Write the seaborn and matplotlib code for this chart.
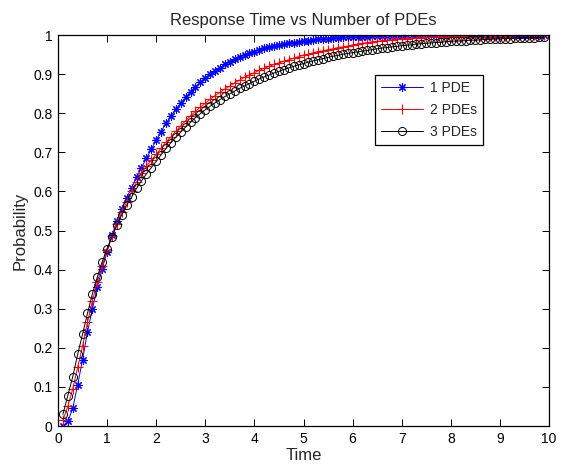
import numpy as np
import pandas as pd
import matplotlib
matplotlib.use("Agg")
import matplotlib.pyplot as plt
import seaborn as sns

time = np.round(np.arange(1, 100) * 0.1, 1)

pde1 = [0.000, 0.012, 0.045, 0.105, 0.170, 0.240, 0.300, 0.355, 0.402, 0.446,
        0.488, 0.525, 0.556, 0.584, 0.610, 0.636, 0.661, 0.685, 0.708, 0.731,
        0.753, 0.774, 0.793, 0.810, 0.826, 0.841, 0.855, 0.868, 0.879, 0.890,
        0.900, 0.909, 0.917, 0.925, 0.932, 0.938, 0.944, 0.949, 0.954, 0.958,
        0.962, 0.966, 0.969, 0.972, 0.975, 0.977, 0.979, 0.981, 0.983, 0.985,
        0.986, 0.988, 0.989, 0.990, 0.991, 0.992, 0.993, 0.994, 0.994, 0.995,
        0.995, 0.996, 0.996, 0.997, 0.997, 0.997, 0.998, 0.998, 0.998, 0.998,
        0.999, 0.999, 0.999, 0.999, 0.999, 0.999, 0.999, 0.999, 0.999, 1.000,
        1.000, 1.000, 1.000, 1.000, 1.000, 1.000, 1.000, 1.000, 1.000, 1.000,
        1.000, 1.000, 1.000, 1.000, 1.000, 1.000, 1.000, 1.000, 1.000]

pde2 = [0.015, 0.050, 0.095, 0.150, 0.205, 0.265, 0.320, 0.368, 0.410, 0.450,
        0.486, 0.518, 0.547, 0.574, 0.600, 0.624, 0.646, 0.665, 0.680, 0.695,
        0.711, 0.726, 0.740, 0.754, 0.768, 0.781, 0.794, 0.805, 0.816, 0.826,
        0.836, 0.845, 0.854, 0.862, 0.870, 0.878, 0.885, 0.892, 0.898, 0.904,
        0.910, 0.915, 0.920, 0.925, 0.929, 0.933, 0.937, 0.941, 0.945, 0.948,
        0.951, 0.955, 0.958, 0.960, 0.963, 0.965, 0.968, 0.970, 0.972, 0.975,
        0.977, 0.979, 0.981, 0.983, 0.984, 0.986, 0.987, 0.988, 0.989, 0.990,
        0.991, 0.992, 0.993, 0.993, 0.994, 0.994, 0.994, 0.995, 0.995, 0.996,
        0.996, 0.996, 0.997, 0.997, 0.997, 0.997, 0.998, 0.998, 0.998, 0.998,
        0.998, 0.999, 0.999, 0.999, 0.999, 0.999, 0.999, 0.999, 0.999]

pde3 = [0.030, 0.078, 0.126, 0.183, 0.235, 0.288, 0.338, 0.381, 0.420, 0.454,
        0.484, 0.514, 0.541, 0.565, 0.586, 0.608, 0.627, 0.645, 0.661, 0.677,
        0.694, 0.710, 0.725, 0.739, 0.752, 0.765, 0.777, 0.789, 0.799, 0.809,
        0.818, 0.827, 0.835, 0.843, 0.850, 0.857, 0.864, 0.870, 0.876, 0.882,
        0.888, 0.893, 0.898, 0.903, 0.907, 0.912, 0.916, 0.920, 0.924, 0.927,
        0.931, 0.934, 0.937, 0.940, 0.943, 0.946, 0.948, 0.951, 0.953, 0.955,
        0.957, 0.959, 0.961, 0.963, 0.965, 0.967, 0.968, 0.970, 0.971, 0.973,
        0.974, 0.975, 0.977, 0.978, 0.979, 0.980, 0.981, 0.982, 0.983, 0.984,
        0.985, 0.985, 0.986, 0.987, 0.987, 0.988, 0.989, 0.989, 0.990, 0.990,
        0.991, 0.991, 0.992, 0.992, 0.993, 0.993, 0.993, 0.994, 0.994]

labels = ["1 PDE", "2 PDEs", "3 PDEs"]
xticks = list(range(0, 11))
yticks = [0, 0.1, 0.2, 0.3, 0.4, 0.5, 0.6, 0.7, 0.8, 0.9, 1]
ytick_labels = ["0", "0.1", "0.2", "0.3", "0.4", "0.5", "0.6", "0.7", "0.8", "0.9", "1"]

sns.set_style("ticks")
plt.rcParams["font.family"] = ["Liberation Sans", "DejaVu Sans"]

fig = plt.figure(figsize=(5.62, 4.68), dpi=100)
ax = fig.add_axes([0.1032, 0.0897, 0.8737, 0.8353])

df = pd.DataFrame({"Time": time, "p1": pde1, "p2": pde2, "p3": pde3})

sns.lineplot(data=df, x="Time", y="p1", ax=ax, color="#0000ff", lw=0.7,
             marker=(8, 2, 0), markersize=6, markeredgewidth=0.8,
             markeredgecolor="#0000ff", label=labels[0])
sns.lineplot(data=df, x="Time", y="p2", ax=ax, color="#ff0000", lw=0.7,
             marker="+", markersize=6.5, markeredgewidth=0.8,
             markeredgecolor="#ff0000", label=labels[1])
sns.lineplot(data=df, x="Time", y="p3", ax=ax, color="black", lw=0.7,
             marker="o", markersize=5.8, markeredgewidth=0.7,
             markerfacecolor="none", markeredgecolor="black", label=labels[2])

ax.set_xlim(0, 10)
ax.set_ylim(0, 1)
ax.set_xticks(xticks)
ax.set_xticklabels([str(t) for t in xticks])
ax.set_yticks(yticks)
ax.set_yticklabels(ytick_labels)
ax.tick_params(direction="in", top=True, right=True, length=5, width=0.7,
               labelsize=10, colors="black", pad=4)
for s in ax.spines.values():
    s.set_visible(True)
    s.set_linewidth(0.9)
    s.set_color("black")

ax.set_title("Response Time vs Number of PDEs", fontsize=12, pad=7)
ax.set_xlabel("Time", fontsize=12, labelpad=2)
ax.set_ylabel("Probability", fontsize=12, labelpad=4)

leg = ax.legend(loc="upper left", bbox_to_anchor=(0.645, 0.898), numpoints=1,
                fancybox=False, framealpha=1, edgecolor="black", fontsize=10,
                handlelength=3.0, borderpad=0.45, labelspacing=0.55,
                handletextpad=0.5, borderaxespad=0)
leg.get_frame().set_linewidth(0.9)

fig.savefig("out.png", dpi=100)
